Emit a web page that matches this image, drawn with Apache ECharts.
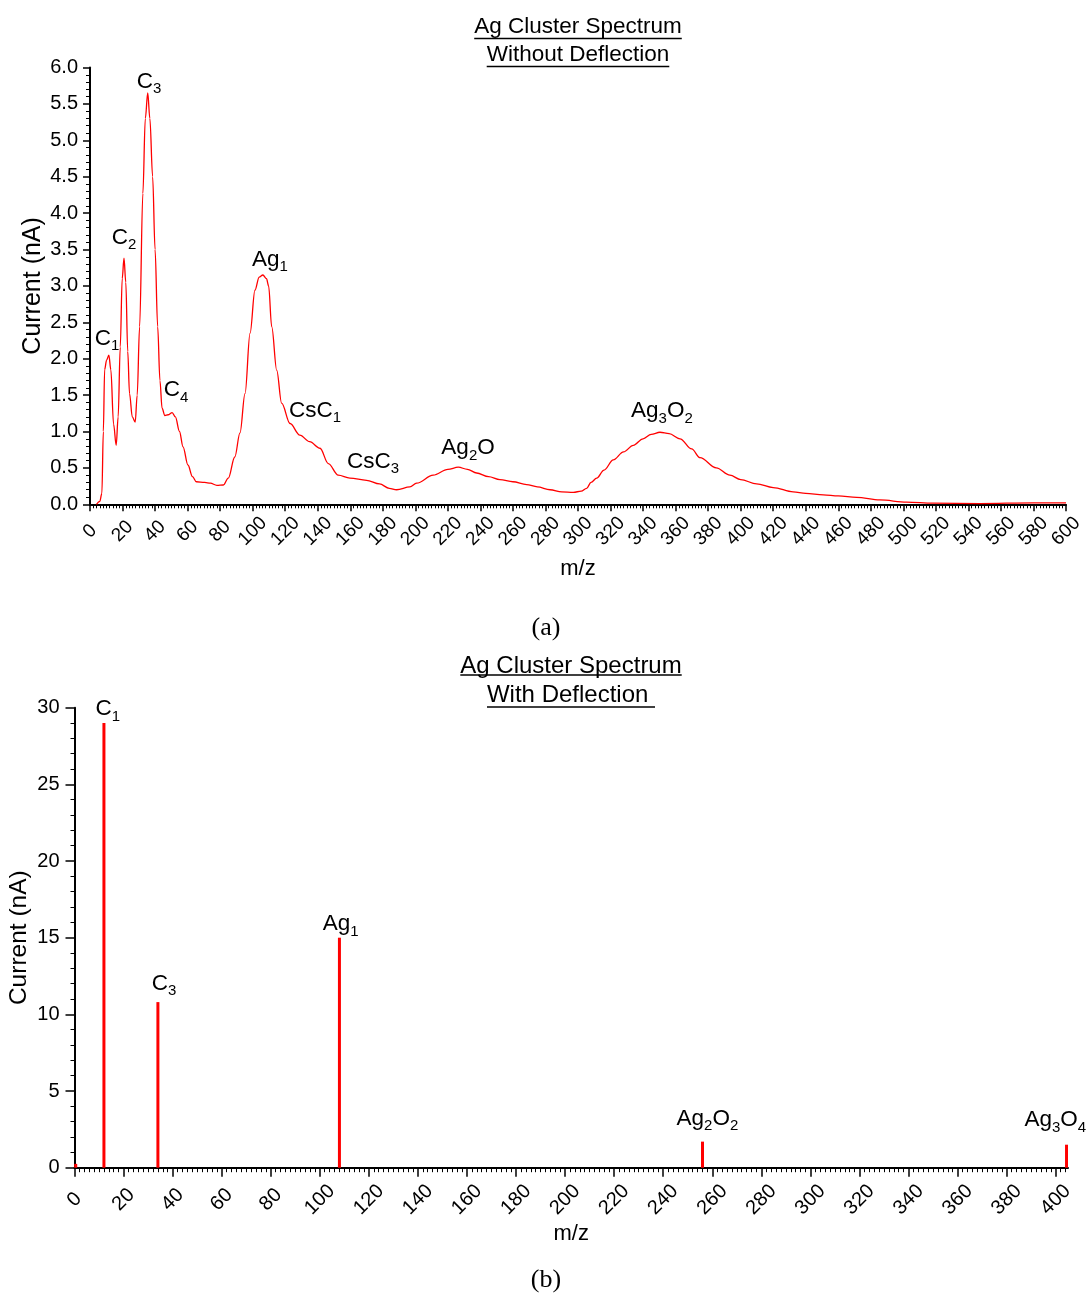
<!DOCTYPE html>
<html><head><meta charset="utf-8">
<script src="https://cdn.jsdelivr.net/npm/echarts@6/dist/echarts.min.js"></script>
<style>html,body{margin:0;padding:0;background:#fff}#c{width:1091px;height:1295px}</style>
</head><body><div id="c"></div>
<script>
// ---------- (a) spectrum without deflection ----------
const spectrumMz = [4,6,7.3,8.2,9,10.2,11.6,12.8,14.5,16.1,17.3,18.6,19.8,20.9,22,23.2,24.3,26,27.8,29,30.5,32.5,34,35.5,36.8,38.5,40,41.6,43,44.3,46,48,50.5,52.5,55,57.2,60.2,63,65.4,70.5,74,78,82,85,89,92.2,95.3,98.4,101.4,104,106.3,108.5,109.8,111.7,114.8,117.8,123,129,135,141.4,146.5,152.6,159.8,170,178,184,188.5,196.7,200.8,211,220,226.4,232,237.7,245,252,260,268.4,275,282.8,290,297.1,302,305.3,308,311.5,316,321.7,328,334,340,345,350.4,356,362.7,369.9,375,385,393.4,400,409.8,420,432.3,440,450.8,460,471.3,485.6,502,518.4,547,580,600];
const spectrumCurrent = [0,0.04,0.15,1.0,1.85,1.98,2.05,1.85,1.1,0.81,1.2,2.16,3.1,3.38,3.05,2.1,1.52,1.2,1.13,1.5,2.44,4.27,5.3,5.65,5.3,4.5,3.5,2.44,1.7,1.32,1.22,1.23,1.26,1.2,1.0,0.79,0.54,0.38,0.31,0.30,0.29,0.26,0.265,0.36,0.65,0.98,1.52,2.35,2.94,3.12,3.15,3.1,3.0,2.44,1.84,1.39,1.11,0.95,0.86,0.77,0.56,0.40,0.36,0.33,0.28,0.22,0.20,0.24,0.29,0.40,0.48,0.51,0.48,0.43,0.38,0.34,0.31,0.27,0.24,0.20,0.17,0.165,0.18,0.22,0.30,0.36,0.47,0.61,0.72,0.81,0.90,0.96,0.99,0.97,0.90,0.76,0.64,0.50,0.40,0.34,0.28,0.23,0.17,0.15,0.13,0.115,0.095,0.06,0.03,0.015,0.01,0.02,0.02];
const topLabelText = ['C_1','C_2','C_3','C_4','Ag_1','CsC_1','CsC_3','Ag_2O','Ag_3O_2'];
const topLabelMz   = [10.5,20.9,36.3,52.9,110.6,138.3,174,232.4,351.6];
const topLabelY    = [2.28,3.66,5.81,1.57,3.36,1.29,0.59,0.77,1.28];

// ---------- (b) spectrum with deflection ----------
const peakMz      = [0.5,12,34,108,256,404.4];
const peakCurrent = [0.25,29.0,10.8,15.0,1.7,1.5];
const bottomLabelText = ['C_1','C_3','Ag_1','Ag_2O_2','Ag_3O_4'];
const bottomLabelMz   = [13.6,36.5,108.5,258,399.8];
const bottomLabelY    = [29.9,12.0,15.9,3.2,3.1];

const SANS = '"Liberation Sans", Arial, sans-serif';
const SERIF = '"Liberation Serif", "Times New Roman", serif';

function toRich(s){
  return s.split(/(_\d)/).filter(p=>p.length).map(p=>p[0]==='_' ? '{s|'+p.slice(1)+'}' : '{m|'+p+'}').join('');
}
const richStyles = {
  m:{fontSize:22.5,fontFamily:SANS,color:'#000',verticalAlign:'top',lineHeight:23},
  s:{fontSize:15,fontFamily:SANS,color:'#000',verticalAlign:'top',lineHeight:15,padding:[11.5,0,0,0]}
};
function labelSeries(texts, xs, ys, xi, yi){
  return {
    type:'scatter', xAxisIndex:xi, yAxisIndex:yi, symbolSize:0.01, silent:true,
    itemStyle:{color:'#000', opacity:1},
    label:{show:true, position:'inside', color:'#000', opacity:1, textBorderWidth:0, textShadowBlur:0,
      formatter:p=>toRich(p.data[2]), rich:richStyles},
    data: texts.map((t,i)=>[xs[i], ys[i], t]), z:5
  };
}

const measureCtx = document.createElement('canvas').getContext('2d');
function textWidth(t, font){ measureCtx.font = font; return measureCtx.measureText(t).width; }

function titleBlock(lines, cx, ys, size, underY){
  const font = size+'px '+SANS;
  const els = [];
  lines.forEach((t,i)=>{
    els.push({type:'text', x:cx, y:ys[i], style:{text:t, font:font, fill:'#000', align:'center', verticalAlign:'middle'}});
    const w = textWidth(t, font);
    els.push({type:'line', shape:{x1:cx-w/2, y1:underY[i], x2:cx+w/2, y2:underY[i]}, style:{stroke:'#000', lineWidth:1.5}});
  });
  return els;
}

const bottomMajor = []; for (let v=0; v<=400; v+=20) bottomMajor.push(v);
const bottomMinor = []; for (let v=2; v<=404; v+=2) if (v%20!==0) bottomMinor.push(v);

const axisLineStyle = {color:'#000', width:2};

const option = {
  animation:false,
  backgroundColor:'#fff',
  grid:[
    {left:90, right:25, top:67.5, bottom:790.7, containLabel:false, outerBoundsMode:'none'},
    {left:74.5, right:23, top:707.7, bottom:127.3, containLabel:false, outerBoundsMode:'none'}
  ],
  xAxis:[
    {gridIndex:0, type:'value', position:'bottom', min:0, max:600, interval:20,
     axisLine:{show:true, onZero:false, lineStyle:axisLineStyle},
     axisTick:{show:true, length:7, inside:false, lineStyle:{color:'#000', width:1.5}},
     minorTick:{show:true, splitNumber:10, length:4, lineStyle:{color:'#000', width:1}},
     splitLine:{show:false}, minorSplitLine:{show:false},
     axisLabel:{rotate:45, align:'center', verticalAlign:'middle', margin:27, fontSize:19, fontFamily:SANS, color:'#000'},
     name:'m/z', nameLocation:'middle', nameGap:54, nameMoveOverlap:false, nameTextStyle:{fontSize:22, fontFamily:SANS, color:'#000'}},
    {gridIndex:1, type:'value', position:'bottom', min:0, max:405, interval:20,
     axisLine:{show:true, onZero:false, lineStyle:axisLineStyle},
     axisTick:{show:true, length:9, customValues:bottomMajor, lineStyle:{color:'#000', width:1.5}},
     minorTick:{show:false},
     splitLine:{show:false},
     axisLabel:{rotate:45, align:'center', verticalAlign:'middle', margin:32, fontSize:20, fontFamily:SANS, color:'#000', customValues:bottomMajor,
       formatter:v=> (v%20===0 ? String(v) : '')},
     name:'m/z', nameLocation:'middle', nameGap:55, nameMoveOverlap:false, nameTextStyle:{fontSize:22, fontFamily:SANS, color:'#000'}},
    {gridIndex:1, type:'value', position:'bottom', offset:0, min:0, max:405, interval:20,
     axisLine:{show:false, onZero:false},
     axisTick:{show:true, length:4.5, customValues:bottomMinor, lineStyle:{color:'#000', width:1}},
     axisLabel:{show:false}, splitLine:{show:false}}
  ],
  yAxis:[
    {gridIndex:0, type:'value', min:0, max:6, interval:0.5,
     axisLine:{show:true, onZero:false, lineStyle:axisLineStyle},
     axisTick:{show:true, length:7, lineStyle:{color:'#000', width:1.5}},
     minorTick:{show:true, splitNumber:5, length:4, lineStyle:{color:'#000', width:1}},
     splitLine:{show:false}, minorSplitLine:{show:false},
     axisLabel:{margin:12, fontSize:20, fontFamily:SANS, color:'#000', formatter:v=>v.toFixed(1)},
     name:'Current (nA)', nameLocation:'middle', nameRotate:90, nameGap:44, nameMoveOverlap:false,
     nameTextStyle:{fontSize:25, fontFamily:SANS, color:'#000'}},
    {gridIndex:1, type:'value', min:0, max:30, interval:5,
     axisLine:{show:true, onZero:false, lineStyle:axisLineStyle},
     axisTick:{show:true, length:9, lineStyle:{color:'#000', width:1.5}},
     minorTick:{show:true, splitNumber:5, length:4, lineStyle:{color:'#000', width:1}},
     splitLine:{show:false}, minorSplitLine:{show:false},
     axisLabel:{margin:15, fontSize:20, fontFamily:SANS, color:'#000'},
     name:'Current (nA)', nameLocation:'middle', nameRotate:90, nameGap:43, nameMoveOverlap:false,
     nameTextStyle:{fontSize:24.5, fontFamily:SANS, color:'#000'}}
  ],
  series:[
    {type:'line', xAxisIndex:0, yAxisIndex:0, showSymbol:false, smooth:0.35, smoothMonotone:'x',
     lineStyle:{color:'#ff0000', width:1.3}, z:3,
     data: spectrumMz.map((x,i)=>[x, spectrumCurrent[i]])},
    {type:'bar', xAxisIndex:1, yAxisIndex:1, barWidth:3, itemStyle:{color:'#ff0000'}, z:3,
     data: peakMz.map((x,i)=>[x, peakCurrent[i]])},
    labelSeries(topLabelText, topLabelMz, topLabelY, 0, 0),
    labelSeries(bottomLabelText, bottomLabelMz, bottomLabelY, 1, 1)
  ],
  graphic:[].concat(
    titleBlock(['Ag Cluster Spectrum','Without Deflection'], 578, [27,55], 22.5, [38.5,66.5]),
    titleBlock(['Ag Cluster Spectrum','With Deflection '], 571, [666,695], 24, [675,707]),
    [
      {type:'text', x:546, y:628, style:{text:'(a)', font:'26px '+SERIF, fill:'#000', align:'center', verticalAlign:'middle'}},
      {type:'text', x:546, y:1280, style:{text:'(b)', font:'26px '+SERIF, fill:'#000', align:'center', verticalAlign:'middle'}}
    ]
  )
};
const chart = echarts.init(document.getElementById('c'), null, {renderer:'canvas'});
chart.setOption(option);
</script>
</body></html>
